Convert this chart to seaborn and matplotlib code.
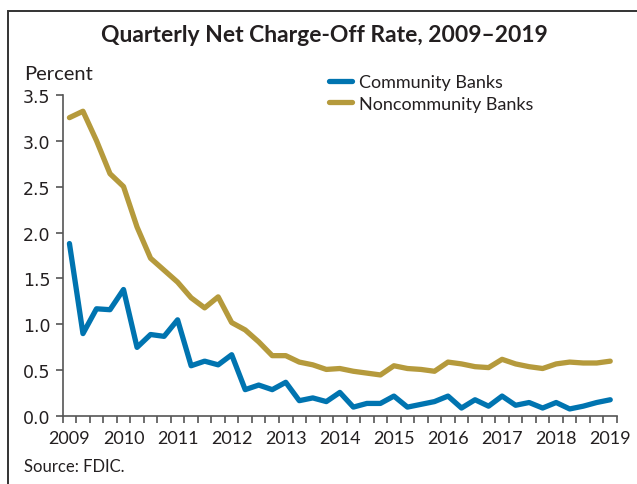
import numpy as np
import pandas as pd
import matplotlib
matplotlib.use("Agg")
import matplotlib.pyplot as plt
from matplotlib.patches import Rectangle
import seaborn as sns

# Quarterly net charge-off rates (percent), 2009 Q1 through 2019 Q1
quarters = [f"{y}Q{q}" for y in range(2009, 2019) for q in range(1, 5)] + ["2019Q1"]
community = [
    1.88, 0.90, 1.17, 1.16, 1.38, 0.75, 0.89, 0.87, 1.05, 0.55,
    0.60, 0.56, 0.67, 0.29, 0.34, 0.29, 0.37, 0.17, 0.20, 0.16,
    0.26, 0.10, 0.14, 0.14, 0.22, 0.10, 0.13, 0.16, 0.22, 0.09,
    0.18, 0.11, 0.22, 0.12, 0.15, 0.09, 0.15, 0.08, 0.11, 0.15,
    0.18,
]
noncommunity = [
    3.25, 3.32, 3.00, 2.64, 2.50, 2.06, 1.72, 1.59, 1.46, 1.29,
    1.18, 1.30, 1.02, 0.94, 0.81, 0.66, 0.66, 0.59, 0.56, 0.51,
    0.52, 0.49, 0.47, 0.45, 0.55, 0.52, 0.51, 0.49, 0.59, 0.57,
    0.54, 0.53, 0.62, 0.57, 0.54, 0.52, 0.57, 0.59, 0.58, 0.58,
    0.60,
]
year_labels = [str(y) for y in range(2009, 2020)]

series_names = ["Community Banks", "Noncommunity Banks"]
df = pd.DataFrame({
    "idx": list(range(len(quarters))) * 2,
    "rate": community + noncommunity,
    "group": [series_names[0]] * len(quarters) + [series_names[1]] * len(quarters),
})

sns.set_theme(style="white")
plt.rcParams["font.family"] = ["Lato", "DejaVu Sans"]
ink = "#231f20"
palette = {series_names[0]: "#0074b0", series_names[1]: "#b59a3c"}

fig = plt.figure(figsize=(6.37, 4.85), dpi=100)
ax = fig.add_axes([0.0984, 0.1396, 0.8702, 0.6631])

sns.lineplot(data=df, x="idx", y="rate", hue="group", palette=palette,
             linewidth=3.8, ax=ax, legend=True)

n = len(quarters)
ax.set_xlim(-0.5, n - 0.5)
ax.set_ylim(0, 3.5)
ax.set_xlabel("")
ax.set_ylabel("")

ax.set_yticks(np.arange(0, 3.51, 0.5))
ax.set_yticklabels([f"{v:.1f}" for v in np.arange(0, 3.51, 0.5)],
                   fontsize=12.5, color=ink, family=["DejaVu Sans"])
ax.set_xticks(np.arange(0, n, 4))
ax.set_xticklabels(year_labels, fontsize=13, color=ink)
ax.set_xticks(np.arange(-0.5, n, 1.0), minor=True)
ax.tick_params(axis="x", which="major", length=0, pad=10)
ax.tick_params(axis="x", which="minor", length=5, width=1.2, color="#555555",
               direction="out", bottom=True)
ax.tick_params(axis="y", which="major", length=5, width=1.2, color="#555555",
               direction="out", left=True, pad=4)

for side in ["top", "right"]:
    ax.spines[side].set_visible(False)
for side in ["left", "bottom"]:
    ax.spines[side].set_color("#555555")
    ax.spines[side].set_linewidth(1.2)

leg = ax.legend(loc="upper left", bbox_to_anchor=(0.467, 1.086), frameon=False,
                fontsize=13, handlelength=1.3, handletextpad=0.4,
                labelspacing=0.3, borderaxespad=0)
for txt in leg.get_texts():
    txt.set_color(ink)
for line in leg.get_lines():
    line.set_linewidth(3.8)
    line.set_solid_capstyle("round")

fig.text(0.51, 0.926, "Quarterly Net Charge-Off Rate, 2009\u20132019",
         ha="center", va="center", fontsize=16.5, fontweight="bold", color=ink)
fig.text(0.038, 0.847, "Percent", ha="left", va="center", fontsize=14.5, color=ink)
fig.text(0.038, 0.037, "Source: FDIC.", ha="left", va="center", fontsize=12, color=ink)

# outer frame of the figure panel
fig.patches.append(Rectangle((8 / 637, -0.05), 1.2, 1 - 12 / 485 + 0.05,
                             transform=fig.transFigure, fill=False,
                             edgecolor="#333333", linewidth=1.4))

fig.savefig("out.png", dpi=100)
